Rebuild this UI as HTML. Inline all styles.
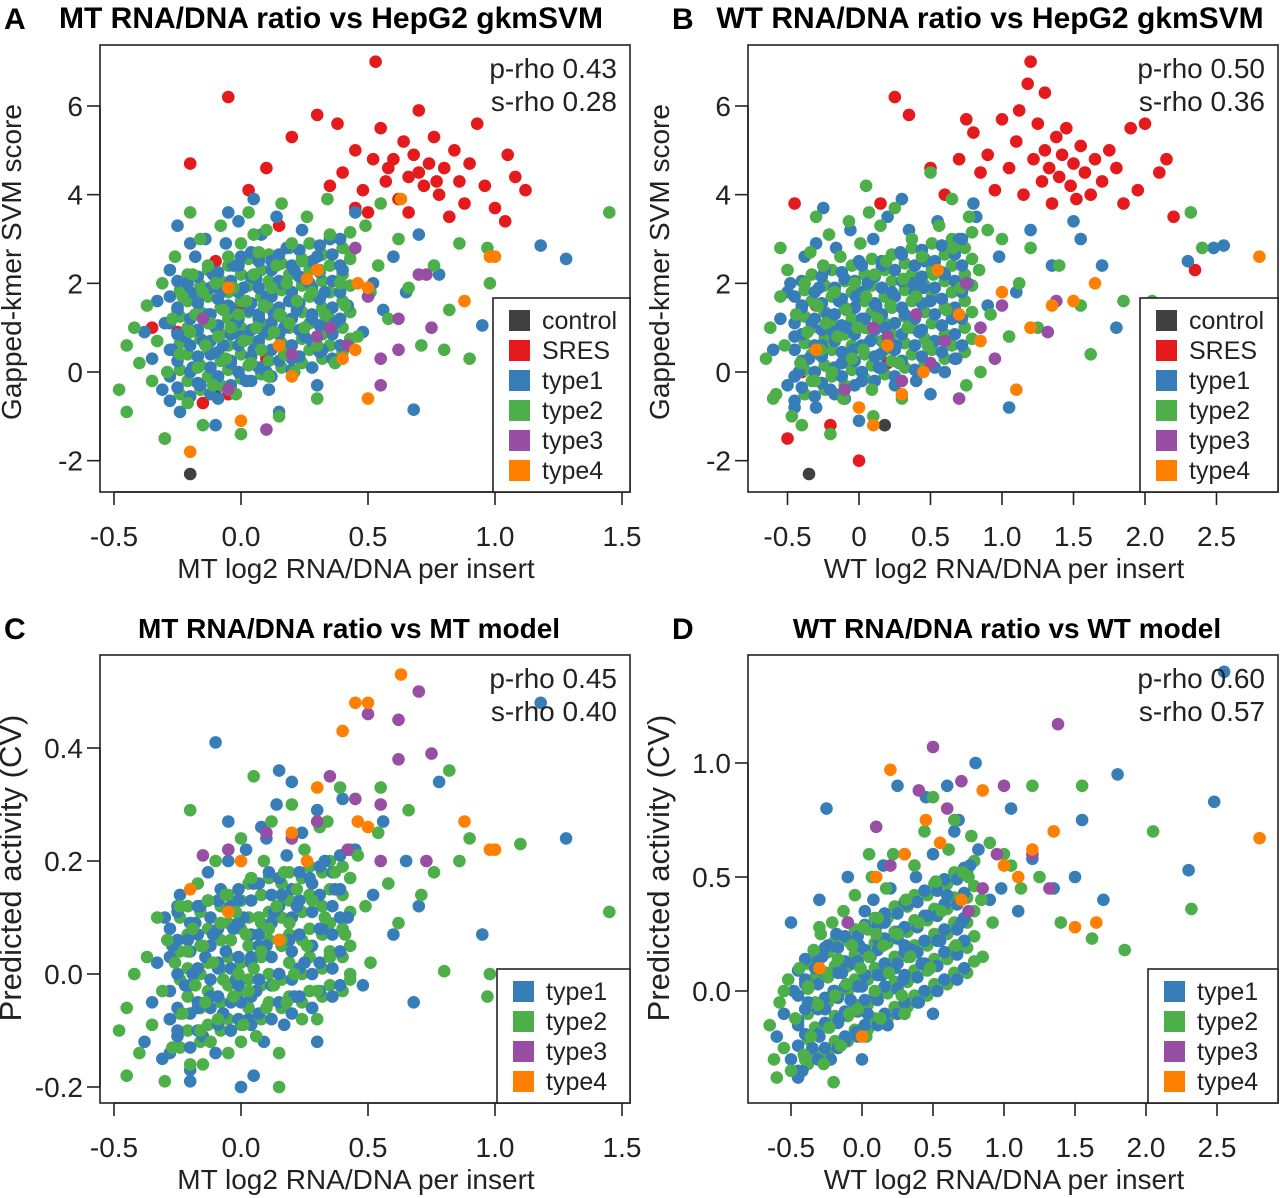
<!DOCTYPE html>
<html><head><meta charset="utf-8"><style>
html,body{margin:0;padding:0;background:#fff;}
svg{display:block;font-family:"Liberation Sans",Arial,sans-serif;}
</style></head><body>
<svg id="fig" width="1280" height="1198" viewBox="0 0 1280 1198" xmlns="http://www.w3.org/2000/svg"></svg>
<script>
// ---- MT data (panels A & C share MT x values) ----
const mtBlueX=[-0.38,-0.35,-0.33,-0.31,-0.3,-0.28,-0.27,-0.25,-0.24,-0.22,-0.21,-0.2,-0.19,-0.18,-0.17,-0.16,-0.15,-0.14,-0.13,-0.12,-0.11,-0.1,-0.09,-0.08,-0.07,-0.06,-0.05,-0.04,-0.03,-0.02,-0.01,0,0.01,0.02,0.03,0.04,0.05,0.06,0.07,0.08,0.09,0.1,0.11,0.12,0.13,0.14,0.15,0.16,0.17,0.18,0.19,0.2,0.21,0.22,0.24,0.25,0.27,0.28,0.3,0.32,0.33,0.35,0.37,0.4,0.42,0.45,0.48,0.52,0.56,0.6,0.65,0.7,0.78,0.95,1.18,1.28,0.68,-0.25,-0.1,0.05,0.15,-0.2,0.0,0.1,0.3,-0.05];
const aBlueY=[0.9,0.3,1.6,-0.4,1.1,2.3,0.5,1.4,-0.9,0.8,2.0,1.2,0.1,2.6,1.7,-0.3,0.7,3.0,1.3,0.4,2.2,1.0,-0.6,1.8,0.6,2.9,1.5,0.2,2.4,1.1,3.4,0.8,1.9,-0.2,1.4,2.7,0.5,2.1,1.2,3.1,0.9,1.7,-0.4,2.5,1.3,3.5,0.6,2.0,1.0,2.8,1.6,0.3,2.3,1.4,3.2,0.8,2.0,1.2,2.6,0.5,1.8,3.0,1.1,2.3,1.5,3.6,0.9,2.0,1.4,2.6,1.8,3.1,2.2,1.05,2.85,2.55,-0.85,3.3,-1.2,3.9,-0.9,2.9,2.6,0.0,-0.3,3.6];
const cBlueY=[-0.12,-0.05,0.02,-0.15,0.1,-0.08,0.05,-0.1,0.14,-0.02,0.06,-0.17,0.0,0.09,-0.06,0.12,-0.11,0.03,0.18,-0.04,0.07,-0.14,0.01,0.15,-0.07,0.04,0.2,-0.1,0.08,-0.01,0.13,-0.05,0.1,0.22,-0.08,0.03,0.16,-0.03,0.07,0.26,-0.12,0.05,0.18,-0.02,0.11,0.3,0.0,0.14,-0.09,0.21,0.06,0.34,-0.04,0.12,0.25,0.02,0.17,-0.06,0.29,0.08,0.2,0.03,0.15,0.31,0.1,0.22,-0.02,0.14,0.27,0.07,0.2,0.12,0.34,0.07,0.48,0.24,-0.05,0.12,0.41,-0.18,0.36,-0.19,-0.2,0.24,-0.12,0.27];
const mtGreenX=[-0.48,-0.45,-0.42,-0.4,-0.37,-0.35,-0.33,-0.31,-0.29,-0.27,-0.26,-0.24,-0.23,-0.21,-0.2,-0.19,-0.18,-0.17,-0.16,-0.15,-0.14,-0.13,-0.12,-0.11,-0.1,-0.09,-0.08,-0.07,-0.06,-0.05,-0.04,-0.03,-0.02,-0.01,0,0.01,0.02,0.03,0.04,0.05,0.06,0.07,0.08,0.09,0.1,0.11,0.12,0.13,0.14,0.15,0.16,0.17,0.18,0.19,0.2,0.21,0.22,0.24,0.25,0.26,0.28,0.3,0.31,0.33,0.35,0.37,0.39,0.41,0.43,0.46,0.49,0.51,0.54,0.58,0.62,0.66,0.71,0.76,0.82,0.9,0.98,1.1,1.45,-0.45,-0.3,-0.15,0.0,0.15,0.3,-0.2,0.05,0.34,0.55,0.86,0.97,0.8];
const aGreenY=[-0.4,0.6,1.0,0.2,1.5,-0.2,0.7,2.0,0.0,1.2,2.6,0.4,1.7,-0.7,0.9,2.2,1.3,0.1,3.0,1.8,0.6,2.4,1.1,-0.3,2.0,0.8,3.3,1.4,0.3,2.6,1.0,1.9,-0.5,1.3,2.9,0.7,1.6,3.6,0.2,2.2,1.0,2.7,0.5,1.5,3.2,-0.1,1.9,0.9,2.4,1.3,3.8,0.4,2.0,1.1,2.9,0.0,1.6,2.5,1.0,3.5,1.8,0.6,2.3,1.3,3.1,0.2,2.0,1.5,2.7,0.8,3.3,1.8,2.4,1.2,3.0,1.9,0.6,2.4,1.4,0.3,2.0,1.4,3.6,-0.9,-1.5,-1.2,-1.4,-1.0,-0.6,3.6,3.1,3.9,3.8,2.9,2.8,0.5];
const cGreenY=[-0.1,-0.06,0.0,-0.14,0.03,-0.09,0.1,-0.03,0.06,-0.13,0.02,0.12,-0.07,0.04,-0.16,0.08,-0.02,0.16,-0.1,0.05,-0.05,0.13,-0.12,0.02,0.2,-0.08,0.09,-0.01,0.14,-0.14,0.06,-0.04,0.11,0.0,0.24,-0.09,0.07,-0.03,0.17,0.01,-0.11,0.1,0.04,0.2,-0.06,0.08,0.27,-0.02,0.12,-0.14,0.06,0.18,-0.05,0.09,0.3,0.0,0.15,-0.08,0.22,0.05,0.13,-0.03,0.26,0.1,0.03,0.18,0.33,0.07,-0.01,0.21,0.12,0.02,0.25,0.16,0.09,0.29,0.14,0.18,0.36,0.24,0.0,0.23,0.11,-0.18,-0.19,-0.16,-0.12,-0.2,-0.08,0.29,0.35,0.27,0.33,0.2,-0.04,0.005];
// dense core of the MT cloud
const mtCoreBlueX=[-0.28,-0.2,-0.12,-0.04,0.04,0.12,0.2,0.28,0.36,-0.25,-0.17,-0.09,-0.01,0.07,0.15,0.23,0.31,0.39,-0.28,-0.2,-0.12,-0.04,0.04,0.12,0.2,0.28,0.36,-0.25,-0.17,-0.09,-0.01,0.07,0.15,0.23,0.31,0.39,-0.28,-0.2,-0.12,-0.04,0.04,0.12,0.2,0.28,0.36,-0.25,-0.17,-0.09,-0.01,0.07,0.15,0.23,0.31,0.39,-0.28,-0.2,-0.12,-0.04,0.04,0.12,0.2,0.28,0.36,-0.25,-0.17,-0.09,-0.01,0.07,0.15,0.23,0.31,0.39,-0.28,-0.2,-0.12,-0.04,0.04,0.12,0.2,0.28,0.36,-0.25,-0.17,-0.09,-0.01,0.07,0.15,0.23,0.31,0.39];
const aCoreBlueY=[-0.65,-0.55,-0.5,-0.3,-0.2,-0.1,0.05,0.1,0.3,-0.35,-0.25,-0.1,0.0,0.1,0.25,0.35,0.45,0.6,-0.1,0.0,0.1,0.25,0.35,0.5,0.6,0.7,0.85,0.25,0.35,0.45,0.6,0.7,0.85,0.95,1.05,1.2,0.5,0.6,0.7,0.85,0.95,1.1,1.2,1.3,1.45,0.85,0.95,1.05,1.2,1.3,1.45,1.55,1.65,1.8,1.1,1.2,1.3,1.45,1.55,1.7,1.8,1.9,2.05,1.45,1.55,1.65,1.8,1.9,2.05,2.15,2.25,2.4,1.7,1.8,1.9,2.05,2.15,2.3,2.4,2.5,2.65,2.05,2.15,2.25,2.4,2.5,2.65,2.75,2.85,3.0];
const cCoreBlueY=[-0.14,-0.13,-0.12,-0.1,-0.09,-0.08,-0.07,-0.06,-0.04,-0.11,-0.1,-0.09,-0.08,-0.07,-0.05,-0.04,-0.03,-0.02,-0.08,-0.07,-0.06,-0.05,-0.04,-0.02,-0.01,0.0,0.01,-0.06,-0.05,-0.04,-0.02,-0.01,0.0,0.01,0.02,0.04,-0.03,-0.02,-0.01,0.01,0.02,0.03,0.04,0.05,0.07,0.0,0.01,0.02,0.03,0.05,0.06,0.07,0.08,0.1,0.03,0.04,0.05,0.06,0.07,0.09,0.1,0.11,0.12,0.06,0.07,0.08,0.09,0.1,0.12,0.13,0.14,0.15,0.08,0.09,0.1,0.12,0.13,0.14,0.15,0.16,0.18,0.11,0.12,0.13,0.15,0.16,0.17,0.18,0.19,0.21];
const mtCoreGreenX=[-0.24,-0.16,-0.08,0.0,0.08,0.16,0.24,0.32,0.4,-0.21,-0.13,-0.05,0.03,0.11,0.19,0.27,0.35,0.43,-0.24,-0.16,-0.08,0.0,0.08,0.16,0.24,0.32,0.4,-0.21,-0.13,-0.05,0.03,0.11,0.19,0.27,0.35,0.43,-0.24,-0.16,-0.08,0.0,0.08,0.16,0.24,0.32,0.4,-0.21,-0.13,-0.05,0.03,0.11,0.19,0.27,0.35,0.43,-0.24,-0.16,-0.08,0.0,0.08,0.16,0.24,0.32,0.4,-0.21,-0.13,-0.05,0.03,0.11,0.19,0.27,0.35,0.43,-0.24,-0.16,-0.08,0.0,0.08,0.16,0.24,0.32,0.4,-0.21,-0.13,-0.05,0.03,0.11,0.19,0.27,0.35,0.43];
const aCoreGreenY=[-0.5,-0.4,-0.3,-0.15,-0.05,0.1,0.2,0.3,0.45,-0.2,-0.1,0.05,0.15,0.25,0.4,0.5,0.6,0.75,0.05,0.15,0.25,0.4,0.5,0.65,0.75,0.85,1.0,0.4,0.5,0.6,0.75,0.85,1.0,1.1,1.2,1.35,0.65,0.75,0.85,1.0,1.1,1.25,1.35,1.45,1.6,1.0,1.1,1.2,1.35,1.45,1.6,1.7,1.8,1.95,1.25,1.35,1.45,1.6,1.7,1.85,1.95,2.05,2.2,1.6,1.7,1.8,1.95,2.05,2.2,2.3,2.4,2.55,1.85,1.95,2.05,2.2,2.3,2.45,2.55,2.65,2.8,2.2,2.3,2.4,2.55,2.65,2.8,2.9,3.0,3.15];
const cCoreGreenY=[-0.13,-0.12,-0.1,-0.09,-0.08,-0.06,-0.05,-0.04,-0.03,-0.1,-0.09,-0.08,-0.06,-0.05,-0.04,-0.03,-0.02,0.0,-0.07,-0.06,-0.05,-0.03,-0.02,-0.01,0.0,0.01,0.03,-0.04,-0.03,-0.02,-0.01,0.0,0.02,0.03,0.04,0.05,-0.01,0.0,0.01,0.02,0.03,0.05,0.06,0.07,0.08,0.01,0.02,0.03,0.05,0.06,0.07,0.08,0.09,0.11,0.04,0.05,0.06,0.08,0.09,0.1,0.11,0.12,0.14,0.07,0.08,0.09,0.1,0.11,0.13,0.14,0.15,0.17,0.1,0.11,0.12,0.13,0.14,0.16,0.17,0.18,0.19,0.12,0.13,0.14,0.16,0.17,0.18,0.19,0.2,0.22];
const mtPurpleX=[0.35,0.42,0.5,0.55,0.62,0.7,0.73,0.75,0.45,0.2,-0.05,0.1,0.3,0.55,0.62,-0.15];
const aPurpleY=[1.0,0.6,1.7,0.3,1.2,2.2,2.2,1.0,2.8,0.4,-0.4,-1.3,0.8,-0.3,0.5,1.2];
const cPurpleY=[0.35,0.22,0.46,0.3,0.38,0.5,0.2,0.39,0.31,0.24,0.22,0.25,0.27,0.2,0.45,0.21];
const mtOrangeX=[0.63,0.5,0.45,0.4,1.0,0.98,0.88,0.5,0.2,-0.05,-0.2,0.0,0.3,0.15,0.26,0.46];
const aOrangeY=[3.9,1.9,0.5,0.3,2.6,2.6,1.6,-0.6,-0.1,1.9,-1.8,-1.1,2.3,0.6,2.1,2.0];
const cOrangeY=[0.53,0.48,0.48,0.43,0.22,0.22,0.27,0.26,0.25,0.11,0.15,0.2,0.33,0.06,0.2,0.27];
const mtRedX=[-0.2,-0.05,0.03,0.1,0.15,0.2,0.3,0.35,0.4,0.45,0.48,0.5,0.53,0.55,0.57,0.6,0.62,0.64,0.66,0.68,0.7,0.72,0.74,0.76,0.78,0.8,0.82,0.84,0.86,0.88,0.9,0.93,0.96,1.0,1.05,1.08,1.12,0.45,0.58,0.38,0.7,0.77,0.66,0.52,1.04,-0.3,-0.25,-0.1,0.0,-0.35,0.05,-0.15,0.1,-0.05];
const aRedY=[4.7,6.2,4.1,4.6,3.3,5.3,5.8,4.2,4.5,5.0,4.1,3.6,7.0,5.5,4.3,4.8,3.9,5.2,4.4,4.9,5.9,4.2,4.7,5.3,4.0,4.6,3.5,5.0,4.3,3.8,4.7,5.6,4.2,3.7,4.9,4.4,4.1,3.7,4.6,5.6,4.5,4.3,3.6,4.8,3.4,-1.5,0.9,2.5,1.5,1.0,2.0,-0.7,0.3,-0.5];
const mtControlX=[-0.2,-0.1];
const aControlY=[-2.3,-0.4];
// ---- WT data (panels B & D share WT x values) ----
const wtBlueX=[-0.6,-0.55,-0.5,-0.48,-0.45,-0.42,-0.4,-0.38,-0.35,-0.33,-0.3,-0.28,-0.26,-0.24,-0.22,-0.2,-0.18,-0.16,-0.14,-0.12,-0.1,-0.08,-0.06,-0.04,-0.02,0,0.02,0.04,0.06,0.08,0.1,0.12,0.14,0.16,0.18,0.2,0.23,0.26,0.29,0.32,0.35,0.38,0.42,0.46,0.5,0.55,0.6,0.65,0.7,0.76,0.82,0.9,0.98,1.1,1.2,1.35,1.55,1.8,2.3,2.48,2.55,0.25,0.68,0.5,1.05,-0.25,0.3,0.8,-0.5,-0.45,0.0,0.4,-0.3,0.15,-0.1,0.6,0.45,1.5,1.7];
const bBlueY=[0.5,1.2,-0.3,2.0,0.8,0.0,1.5,2.6,0.3,1.1,-0.8,1.9,0.6,2.3,1.3,-0.4,0.9,2.8,1.6,0.2,2.1,1.0,3.2,0.5,1.7,2.5,-0.2,1.2,2.0,0.7,3.0,1.5,0.1,2.4,1.0,3.5,1.8,0.6,2.7,1.3,3.2,2.0,0.9,2.5,1.6,3.4,2.2,1.2,3.0,2.0,3.5,1.5,2.6,1.8,3.2,2.4,3.0,1.0,2.5,2.8,2.85,-0.3,0.3,-0.5,-0.8,3.7,3.9,3.8,1.8,-0.8,-1.1,-0.2,2.9,0.4,-0.6,0.0,1.9,3.4,2.4];
const dBlueY=[-0.2,-0.1,-0.3,0.0,-0.15,-0.35,0.05,-0.05,-0.25,0.1,-0.2,0.15,-0.08,0.2,-0.3,0.0,0.25,-0.12,0.08,-0.22,0.3,-0.04,0.12,-0.18,0.2,0.02,0.35,-0.1,0.15,0.4,-0.02,0.22,0.07,0.3,-0.15,0.45,0.1,0.26,0.05,0.38,0.18,0.5,0.12,0.33,0.6,0.22,0.42,0.7,0.3,0.55,0.62,0.4,0.45,0.35,0.58,0.45,0.75,0.95,0.53,0.83,1.4,0.9,0.75,-0.1,0.8,0.8,0.2,1.0,0.3,-0.38,-0.3,-0.05,0.4,0.55,0.5,0.9,0.85,0.5,0.4];
const wtGreenX=[-0.65,-0.62,-0.58,-0.55,-0.52,-0.5,-0.47,-0.44,-0.41,-0.38,-0.36,-0.34,-0.31,-0.29,-0.27,-0.25,-0.23,-0.21,-0.19,-0.17,-0.15,-0.13,-0.11,-0.09,-0.07,-0.05,-0.03,-0.01,0.01,0.03,0.05,0.07,0.09,0.11,0.13,0.15,0.17,0.19,0.22,0.25,0.28,0.31,0.34,0.37,0.4,0.44,0.48,0.52,0.56,0.61,0.66,0.71,0.77,0.84,0.92,1.0,1.12,1.25,1.4,1.55,1.62,1.85,2.05,2.32,2.4,-0.6,-0.2,-0.4,0.1,0.3,-0.3,0.05,0.5,0.65,0.9,1.2,-0.55,0.85,1.05,0.75];
const bGreenY=[0.3,1.0,-0.5,1.7,0.6,2.3,-1.0,1.3,0.2,2.0,0.9,2.7,-0.2,1.5,0.5,2.4,1.1,3.1,0.0,1.8,0.8,2.6,-0.6,1.4,3.4,0.3,2.0,1.0,2.9,0.5,1.7,3.6,-0.4,2.2,1.2,3.3,0.7,2.5,1.5,3.7,0.2,2.1,1.0,3.0,1.7,2.6,0.6,2.2,3.3,1.4,2.8,1.9,3.5,2.3,1.3,3.0,2.0,1.0,2.4,1.5,0.4,1.6,1.6,3.6,2.8,-0.6,-1.4,-1.2,-1.0,-0.6,3.5,4.2,4.5,3.9,3.2,2.8,2.8,0.0,0.8,-0.3];
const dGreenY=[-0.15,-0.3,-0.05,-0.25,0.05,-0.35,-0.12,0.1,-0.28,0.02,-0.2,0.18,-0.06,0.25,-0.32,0.08,-0.16,0.3,-0.02,0.14,-0.24,0.35,0.03,-0.1,0.2,0.42,-0.08,0.1,0.28,-0.2,0.15,0.5,0.0,0.32,-0.12,0.2,0.45,0.08,0.6,0.25,-0.02,0.4,0.15,0.55,0.3,0.7,0.1,0.48,0.35,0.62,0.2,0.52,0.68,0.4,0.3,0.6,0.45,0.5,0.3,0.9,0.23,0.18,0.7,0.36,0.0,-0.38,-0.4,-0.3,0.25,-0.1,0.28,0.6,0.85,0.75,0.65,0.9,0.0,0.15,0.55,0.5];
// dense core of the WT cloud
const wtCoreBlueX=[-0.45,-0.31,-0.17,-0.03,0.11,0.25,0.39,0.53,0.67,-0.4,-0.26,-0.12,0.02,0.16,0.3,0.44,0.58,0.72,-0.45,-0.31,-0.17,-0.03,0.11,0.25,0.39,0.53,0.67,-0.4,-0.26,-0.12,0.02,0.16,0.3,0.44,0.58,0.72,-0.45,-0.31,-0.17,-0.03,0.11,0.25,0.39,0.53,0.67,-0.4,-0.26,-0.12,0.02,0.16,0.3,0.44,0.58,0.72,-0.45,-0.31,-0.17,-0.03,0.11,0.25,0.39,0.53,0.67,-0.4,-0.26,-0.12,0.02,0.16,0.3,0.44,0.58,0.72,-0.45,-0.31,-0.17,-0.03,0.11,0.25,0.39,0.53,0.67,-0.4,-0.26,-0.12,0.02,0.16,0.3,0.44,0.58,0.72];
const bCoreBlueY=[-0.65,-0.55,-0.5,-0.3,-0.2,-0.1,0.05,0.1,0.3,-0.35,-0.25,-0.1,0.0,0.1,0.25,0.35,0.45,0.6,-0.1,0.0,0.1,0.25,0.35,0.5,0.6,0.7,0.85,0.25,0.35,0.45,0.6,0.7,0.85,0.95,1.05,1.2,0.5,0.6,0.7,0.85,0.95,1.1,1.2,1.3,1.45,0.85,0.95,1.05,1.2,1.3,1.45,1.55,1.65,1.8,1.1,1.2,1.3,1.45,1.55,1.7,1.8,1.9,2.05,1.45,1.55,1.65,1.8,1.9,2.05,2.15,2.25,2.4,1.7,1.8,1.9,2.05,2.15,2.3,2.4,2.5,2.65,2.05,2.15,2.25,2.4,2.5,2.65,2.75,2.85,3.0];
const dCoreBlueY=[-0.35,-0.3,-0.25,-0.2,-0.15,-0.1,-0.05,0.0,0.05,-0.3,-0.25,-0.2,-0.15,-0.1,-0.05,0.0,0.05,0.1,-0.24,-0.19,-0.14,-0.09,-0.04,0.01,0.06,0.11,0.16,-0.19,-0.14,-0.09,-0.04,0.02,0.07,0.12,0.17,0.22,-0.13,-0.08,-0.03,0.02,0.07,0.12,0.17,0.22,0.27,-0.08,-0.03,0.02,0.07,0.12,0.17,0.22,0.27,0.32,-0.02,0.03,0.08,0.13,0.18,0.23,0.28,0.33,0.38,0.03,0.08,0.13,0.18,0.23,0.28,0.33,0.38,0.43,0.09,0.14,0.19,0.24,0.29,0.34,0.39,0.44,0.49,0.14,0.19,0.24,0.29,0.34,0.39,0.44,0.49,0.54];
const wtCoreGreenX=[-0.38,-0.24,-0.1,0.04,0.18,0.32,0.46,0.6,0.74,-0.33,-0.19,-0.05,0.09,0.23,0.37,0.51,0.65,0.79,-0.38,-0.24,-0.1,0.04,0.18,0.32,0.46,0.6,0.74,-0.33,-0.19,-0.05,0.09,0.23,0.37,0.51,0.65,0.79,-0.38,-0.24,-0.1,0.04,0.18,0.32,0.46,0.6,0.74,-0.33,-0.19,-0.05,0.09,0.23,0.37,0.51,0.65,0.79,-0.38,-0.24,-0.1,0.04,0.18,0.32,0.46,0.6,0.74,-0.33,-0.19,-0.05,0.09,0.23,0.37,0.51,0.65,0.79,-0.38,-0.24,-0.1,0.04,0.18,0.32,0.46,0.6,0.74,-0.33,-0.19,-0.05,0.09,0.23,0.37,0.51,0.65,0.79];
const bCoreGreenY=[-0.5,-0.4,-0.3,-0.15,-0.05,0.1,0.2,0.3,0.45,-0.2,-0.1,0.05,0.15,0.25,0.4,0.5,0.6,0.75,0.05,0.15,0.25,0.4,0.5,0.65,0.75,0.85,1.0,0.4,0.5,0.6,0.75,0.85,1.0,1.1,1.2,1.35,0.65,0.75,0.85,1.0,1.1,1.25,1.35,1.45,1.6,1.0,1.1,1.2,1.35,1.45,1.6,1.7,1.8,1.95,1.25,1.35,1.45,1.6,1.7,1.85,1.95,2.05,2.2,1.6,1.7,1.8,1.95,2.05,2.2,2.3,2.4,2.55,1.85,1.95,2.05,2.2,2.3,2.45,2.55,2.65,2.8,2.2,2.3,2.4,2.55,2.65,2.8,2.9,3.0,3.15];
const dCoreGreenY=[-0.32,-0.27,-0.22,-0.17,-0.12,-0.07,-0.02,0.03,0.08,-0.27,-0.22,-0.17,-0.12,-0.07,-0.02,0.03,0.08,0.13,-0.21,-0.16,-0.11,-0.06,-0.01,0.04,0.09,0.14,0.19,-0.16,-0.11,-0.06,-0.01,0.04,0.09,0.14,0.19,0.24,-0.1,-0.05,0.0,0.05,0.1,0.15,0.2,0.25,0.3,-0.05,0.0,0.05,0.1,0.15,0.2,0.25,0.3,0.35,0.01,0.06,0.11,0.16,0.21,0.26,0.31,0.36,0.41,0.06,0.11,0.16,0.21,0.26,0.31,0.36,0.41,0.46,0.12,0.17,0.22,0.27,0.32,0.37,0.42,0.47,0.52,0.17,0.22,0.27,0.32,0.37,0.42,0.47,0.52,0.57];
const wtPurpleX=[0.3,0.5,0.7,0.85,1.0,1.38,0.6,0.95,0.2,0.4,-0.1,1.32,0.1,0.75,1.2];
const bPurpleY=[-0.2,0.2,-0.6,1.0,1.5,1.6,0.7,0.3,0.8,1.3,-0.4,0.9,1.0,2.0,1.0];
const dPurpleY=[0.6,1.07,0.92,0.45,0.9,1.17,0.8,0.6,0.55,0.88,0.3,0.45,0.72,0.35,0.6];
const wtOrangeX=[0.2,0.3,0.55,0.85,1.0,1.2,1.35,1.5,1.65,2.8,0.1,0.45,0.7,-0.3,0.0,1.1];
const bOrangeY=[0.6,-0.5,2.3,0.7,1.8,1.0,1.5,1.6,2.0,2.6,-1.2,0.0,1.3,0.5,-0.8,-0.4];
const dOrangeY=[0.97,0.6,0.65,0.88,0.55,0.62,0.7,0.28,0.3,0.67,0.5,0.75,0.4,0.1,-0.2,0.5];
const wtRedX=[0.15,0.25,0.35,0.5,0.6,0.7,0.8,0.85,0.9,0.95,1.0,1.05,1.1,1.15,1.18,1.2,1.22,1.25,1.28,1.3,1.33,1.35,1.38,1.4,1.42,1.45,1.48,1.5,1.52,1.55,1.58,1.62,1.65,1.7,1.75,1.8,1.85,1.9,1.95,2.0,2.1,2.15,2.2,2.35,1.3,1.12,0.75,-0.45,-0.5,-0.4,-0.2,0.0,-0.3,0.05,-0.1,0.2];
const bRedY=[3.8,6.2,5.8,4.6,4.0,4.8,5.4,4.5,4.9,4.1,5.7,4.6,5.2,4.0,6.5,7.0,4.8,5.6,4.3,5.0,4.6,3.8,5.3,4.4,4.9,5.5,4.2,4.7,3.9,5.1,4.5,4.0,4.8,4.3,5.0,4.6,3.8,5.5,4.1,5.6,4.5,4.8,3.5,2.3,6.3,5.9,5.7,3.8,-1.5,0.0,-1.2,-2.0,1.5,1.0,-0.6,0.2];
const wtControlX=[-0.35,0.18];
const bControlY=[-2.3,-1.2];
// ---- tick labels ----
const mtTicks=[-0.5,0.0,0.5,1.0,1.5];
const wtTicks=[-0.5,0,0.5,1.0,1.5,2.0,2.5];
const svmTicks=[-2,0,2,4,6];
const cTicks=[-0.2,0.0,0.2,0.4];
const dTicks=[0.0,0.5,1.0];
const legendTop=["control","SRES","type1","type2","type3","type4"];
const legendBottom=["type1","type2","type3","type4"];

const COL={control:"#404040",SRES:"#e41a1c",type1:"#377eb8",type2:"#4daf4a",type3:"#984ea3",type4:"#ff7f00"};
const NS="http://www.w3.org/2000/svg";
const svg=document.getElementById('fig');
function mk(tag,attrs,parent){const e=document.createElementNS(NS,tag);for(const k in attrs)e.setAttribute(k,attrs[k]);(parent||svg).appendChild(e);return e;}
function txt(s,attrs,parent){const e=mk('text',attrs,parent);e.textContent=s;return e;}
function lin(v0,p0,v1,p1){return v=>p0+(v-v0)*(p1-p0)/(v1-v0);}

function panel(cfg){
  const g=mk('g',{});
  
  
  const X=cfg.x,Y=cfg.y,b=cfg.box;
  const L=txt(cfg.letter,{x:cfg.lx,y:cfg.ty+1,'font-size':30,'font-weight':'bold'},g);
  
  const T=txt(cfg.title,{x:cfg.tx,y:cfg.ty,'font-size':cfg.tfs,'font-weight':'bold','text-anchor':'middle'},g);
  
  const pg=mk('g',{},g);
  
  cfg.series.forEach(s=>{
    const n=Math.min(s.x.length,s.y.length);
    for(let i=0;i<n;i++){
      const c=mk('circle',{cx:X(s.x[i]).toFixed(1),cy:Y(s.y[i]).toFixed(1),r:6.3,fill:COL[s.cat]},pg);
      
      
    }
  });
  const bx=mk('rect',{x:b.l,y:b.t,width:b.r-b.l,height:b.b-b.t,fill:'none',stroke:'#222','stroke-width':1.6},g);
  
  const xa=mk('g',{},g);
  
  const xt=cfg.xticks;
  mk('line',{x1:X(xt[0]),x2:X(xt[xt.length-1]),y1:b.b,y2:b.b,stroke:'#222','stroke-width':1.6},xa);
  xt.forEach(v=>{
    mk('line',{x1:X(v),x2:X(v),y1:b.b,y2:b.b+13,stroke:'#222','stroke-width':1.6},xa);
    const t=txt(cfg.xfmt(v),{x:X(v),y:b.b+54,'font-size':28,'text-anchor':'middle',fill:'#222'},xa);
    
  });
  const xtl=txt(cfg.xtitle,{x:(b.l+b.r)/2-9,y:b.b+86,'font-size':28,'text-anchor':'middle',fill:'#222'},g);
  
  const ya=mk('g',{},g);
  
  const yt=cfg.yticks;
  mk('line',{x1:b.l,x2:b.l,y1:Y(yt[0]),y2:Y(yt[yt.length-1]),stroke:'#222','stroke-width':1.6},ya);
  yt.forEach(v=>{
    mk('line',{x1:b.l-13,x2:b.l,y1:Y(v),y2:Y(v),stroke:'#222','stroke-width':1.6},ya);
    const t=txt(cfg.yfmt(v),{x:b.l-17,y:Y(v)+10,'font-size':28,'text-anchor':'end',fill:'#222'},ya);
    
  });
  const cy=cfg.ytc;
  const yx=b.l-79;
  const ytl=txt(cfg.ytitle,{x:yx,y:cy,'font-size':cfg.yfs,'text-anchor':'middle',fill:'#222',transform:`rotate(-90 ${yx} ${cy})`},g);
  
  cfg.stats.forEach((s,i)=>{
    const t=txt(s,{x:b.r-13,y:b.t+33+i*33,'font-size':28,'text-anchor':'end',fill:'#222'},g);
    
  });
  const lg=mk('g',{},g);
  
  const lw=cfg.legW,lh=cfg.legend.length*30+14;
  mk('rect',{x:b.r-lw,y:b.b-lh,width:lw,height:lh,fill:'#fff',stroke:'#222','stroke-width':1.6},lg);
  cfg.legend.forEach((name,i)=>{
    const ry=b.b-lh+22+i*30;
    const e=mk('g',{},lg);
    
    mk('rect',{x:b.r-lw+16,y:ry-10,width:21,height:21,fill:COL[name]},e);
    txt(name,{x:b.r-lw+49,y:ry+9,'font-size':25,fill:'#222'},e);
  });
}
const f1=v=>v.toFixed(1);
const fWT=v=>v===0?'0':v.toFixed(1);
const f0=v=>String(v);
panel({name:'panel-a',letter:'A',lx:4,ty:28,tx:331,tfs:30,title:'MT RNA/DNA ratio vs HepG2 gkmSVM',
  box:{l:100,r:630,t:45,b:492},x:lin(0,241,1,495),y:lin(0,372,6,106),
  xticks:mtTicks,xfmt:f1,yticks:svmTicks,yfmt:f0,xtitle:'MT log2 RNA/DNA per insert',ytitle:'Gapped-kmer SVM score',ytc:262,yfs:28,
  stats:['p-rho 0.43','s-rho 0.28'],legend:legendTop,legW:137,
  series:[{cat:'control',x:mtControlX,y:aControlY},{cat:'SRES',x:mtRedX,y:aRedY},{cat:'type2',x:mtCoreGreenX,y:aCoreGreenY},{cat:'type1',x:mtCoreBlueX,y:aCoreBlueY},{cat:'type1',x:mtBlueX,y:aBlueY},{cat:'type2',x:mtGreenX,y:aGreenY},{cat:'type3',x:mtPurpleX,y:aPurpleY},{cat:'type4',x:mtOrangeX,y:aOrangeY}]});
panel({name:'panel-b',letter:'B',lx:672,ty:28,tx:990,tfs:30,title:'WT RNA/DNA ratio vs HepG2 gkmSVM',
  box:{l:748,r:1278,t:45,b:492},x:lin(0,859,1,1002),y:lin(0,372,6,106),
  xticks:wtTicks,xfmt:fWT,yticks:svmTicks,yfmt:f0,xtitle:'WT log2 RNA/DNA per insert',ytitle:'Gapped-kmer SVM score',ytc:262,yfs:28,
  stats:['p-rho 0.50','s-rho 0.36'],legend:legendTop,legW:138,
  series:[{cat:'control',x:wtControlX,y:bControlY},{cat:'SRES',x:wtRedX,y:bRedY},{cat:'type2',x:wtCoreGreenX,y:bCoreGreenY},{cat:'type1',x:wtCoreBlueX,y:bCoreBlueY},{cat:'type1',x:wtBlueX,y:bBlueY},{cat:'type2',x:wtGreenX,y:bGreenY},{cat:'type3',x:wtPurpleX,y:bPurpleY},{cat:'type4',x:wtOrangeX,y:bOrangeY}]});
panel({name:'panel-c',letter:'C',lx:4,ty:638,tx:349,tfs:28,title:'MT RNA/DNA ratio vs MT model',
  box:{l:100,r:630,t:655,b:1103},x:lin(0,241,1,495),y:lin(0,974,0.4,748),
  xticks:mtTicks,xfmt:f1,yticks:cTicks,yfmt:f1,xtitle:'MT log2 RNA/DNA per insert',ytitle:'Predicted activity (CV)',ytc:868,yfs:31,
  stats:['p-rho 0.45','s-rho 0.40'],legend:legendBottom,legW:133,
  series:[{cat:'type2',x:mtCoreGreenX,y:cCoreGreenY},{cat:'type1',x:mtCoreBlueX,y:cCoreBlueY},{cat:'type1',x:mtBlueX,y:cBlueY},{cat:'type2',x:mtGreenX,y:cGreenY},{cat:'type3',x:mtPurpleX,y:cPurpleY},{cat:'type4',x:mtOrangeX,y:cOrangeY}]});
panel({name:'panel-d',letter:'D',lx:672,ty:638,tx:1007,tfs:28,title:'WT RNA/DNA ratio vs WT model',
  box:{l:748,r:1278,t:655,b:1103},x:lin(0,862,1,1004),y:lin(0,991,1,763),
  xticks:wtTicks,xfmt:f1,yticks:dTicks,yfmt:f1,xtitle:'WT log2 RNA/DNA per insert',ytitle:'Predicted activity (CV)',ytc:868,yfs:31,
  stats:['p-rho 0.60','s-rho 0.57'],legend:legendBottom,legW:130,
  series:[{cat:'type2',x:wtCoreGreenX,y:dCoreGreenY},{cat:'type1',x:wtCoreBlueX,y:dCoreBlueY},{cat:'type1',x:wtBlueX,y:dBlueY},{cat:'type2',x:wtGreenX,y:dGreenY},{cat:'type3',x:wtPurpleX,y:dPurpleY},{cat:'type4',x:wtOrangeX,y:dOrangeY}]});
</script>
</body></html>
